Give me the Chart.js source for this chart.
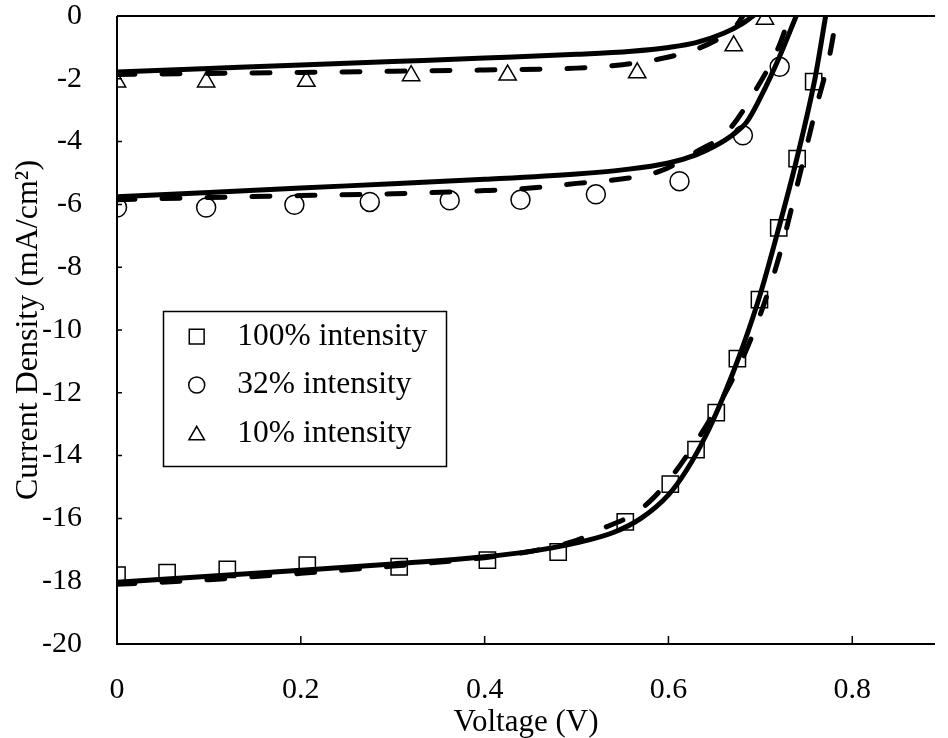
<!DOCTYPE html>
<html><head><meta charset="utf-8">
<script src="https://cdn.jsdelivr.net/npm/chart.js@4"></script>
<style>html,body{margin:0;padding:0;background:#fff}canvas{display:block}</style>
</head><body>
<canvas id="c" width="948" height="738"></canvas>
<script>
// ---- data ----
const seriesNames = ['100% intensity', '32% intensity', '10% intensity'];
// measured points (markers)
const v100 = [0, 0.0545, 0.12, 0.207, 0.307, 0.403, 0.480, 0.553, 0.602, 0.630, 0.652, 0.675, 0.699, 0.720, 0.740, 0.758];
const j100 = [-17.81, -17.73, -17.62, -17.49, -17.54, -17.33, -17.07, -16.11, -14.91, -13.81, -12.63, -10.91, -9.03, -6.75, -4.54, -2.09];
const v32 = [0, 0.097, 0.193, 0.275, 0.362, 0.439, 0.521, 0.612, 0.681, 0.721];
const j32 = [-6.10, -6.10, -6.01, -5.92, -5.87, -5.85, -5.68, -5.26, -3.80, -1.62];
const v10 = [0, 0.097, 0.206, 0.32, 0.425, 0.566, 0.671, 0.705];
const j10 = [-2.10, -2.10, -2.08, -1.90, -1.88, -1.81, -0.95, -0.10];
// solid fit curves
const vS100 = [0, 0.1, 0.2, 0.3, 0.4, 0.45, 0.5, 0.54, 0.57, 0.6, 0.62, 0.64, 0.66, 0.68, 0.70, 0.72, 0.74, 0.76, 0.771];
const jS100 = [-18.03, -17.84, -17.65, -17.45, -17.22, -17.05, -16.78, -16.45, -16.0, -15.25, -14.45, -13.4, -12.1, -10.6, -8.85, -6.75, -4.5, -1.9, 0];
const vS32 = [0, 0.1, 0.2, 0.3, 0.4, 0.5, 0.55, 0.6, 0.63, 0.65, 0.67, 0.685, 0.70, 0.72, 0.739];
const jS32 = [-5.76, -5.62, -5.48, -5.34, -5.2, -5.03, -4.9, -4.68, -4.42, -4.15, -3.78, -3.38, -2.6, -1.35, 0];
const vS10 = [0, 0.1, 0.2, 0.3, 0.4, 0.5, 0.56, 0.6, 0.63, 0.66, 0.68, 0.692];
const jS10 = [-1.78, -1.67, -1.56, -1.45, -1.34, -1.22, -1.12, -1.0, -0.85, -0.55, -0.25, 0];
// dashed fit curves
const vD100 = [0, 0.1, 0.2, 0.3, 0.4, 0.45, 0.5, 0.53, 0.56, 0.58, 0.6, 0.62, 0.64, 0.66, 0.68, 0.70, 0.72, 0.74, 0.76, 0.775, 0.783];
const jD100 = [-18.1, -17.95, -17.75, -17.52, -17.25, -17.05, -16.7, -16.3, -15.9, -15.45, -14.8, -14.0, -13.1, -12.1, -10.95, -9.5, -7.7, -5.4, -3.0, -1.3, 0];
const vD32 = [0, 0.1, 0.2, 0.3, 0.4, 0.45, 0.5, 0.54, 0.59, 0.63, 0.665, 0.695, 0.72, 0.732];
const jD32 = [-5.85, -5.78, -5.72, -5.66, -5.56, -5.48, -5.33, -5.22, -4.95, -4.33, -3.65, -2.35, -0.98, 0];
const vD10 = [0, 0.1, 0.2, 0.3, 0.4, 0.5, 0.55, 0.59, 0.63, 0.655, 0.672, 0.681];
const jD10 = [-1.86, -1.83, -1.80, -1.76, -1.72, -1.66, -1.55, -1.37, -1.06, -0.72, -0.37, 0];
// ticks
const xTickValues = [0, 0.2, 0.4, 0.6, 0.8];
const yTickValues = [-20, -18, -16, -14, -12, -10, -8, -6, -4, -2, 0];
const xTitle = 'Voltage (V)';
const yTitle = 'Current Density (mA/cm²)';

// ---- build ----
const FONT = "'Liberation Serif', 'Times New Roman', serif";
const pts = (xs, ys) => xs.map((x, i) => ({x, y: ys[i]}));
const markerStyles = [
  {pointStyle: 'rect', radius: 11.5, legendRadius: 10.5},
  {pointStyle: 'circle', radius: 9.5, legendRadius: 8},
  {pointStyle: 'triangle', radius: 10, legendRadius: 9}
];
const markerData = [pts(v100, j100), pts(v32, j32), pts(v10, j10)];
const solidData = [pts(vS100, jS100), pts(vS32, jS32), pts(vS10, jS10)];
const dashData = [pts(vD100, jD100), pts(vD32, jD32), pts(vD10, jD10)];

const datasets = [];
for (let i = 0; i < 3; i++) {
  datasets.push({label: seriesNames[i] + ' fit', data: solidData[i], showLine: true, borderColor: '#000', borderWidth: 5,
    pointRadius: 0, cubicInterpolationMode: 'monotone', borderCapStyle: 'round', borderJoinStyle: 'round', fill: false});
  datasets.push({label: seriesNames[i] + ' fit 2', data: dashData[i], showLine: true, borderColor: '#000', borderWidth: 5,
    borderDash: [18, 27], borderCapStyle: 'round', pointRadius: 0, cubicInterpolationMode: 'monotone', fill: false});
}
for (let i = 0; i < 3; i++) {
  datasets.push({label: seriesNames[i], data: markerData[i], showLine: false, pointStyle: markerStyles[i].pointStyle,
    pointRadius: markerStyles[i].radius, pointHoverRadius: markerStyles[i].radius, pointBorderWidth: 1.5,
    pointBorderColor: '#000', pointBackgroundColor: 'rgba(0,0,0,0)'});
}

const axesPlugin = {
  id: 'axesPlugin',
  beforeDatasetsDraw(chart) {
    const {ctx, chartArea: a, scales: {x, y}} = chart;
    ctx.save();
    ctx.strokeStyle = '#000';
    ctx.lineWidth = 2;
    ctx.beginPath();
    ctx.moveTo(a.left, a.top); ctx.lineTo(a.right, a.top);
    ctx.moveTo(a.left, a.top); ctx.lineTo(a.left, a.bottom);
    ctx.moveTo(a.left - 1, a.bottom); ctx.lineTo(a.right, a.bottom);
    ctx.stroke();
    ctx.lineWidth = 1.5;
    ctx.beginPath();
    xTickValues.forEach(v => { const px = x.getPixelForValue(v); if (v !== 0) { ctx.moveTo(px, a.bottom); ctx.lineTo(px, a.bottom - 8); } });
    yTickValues.forEach(v => { const py = y.getPixelForValue(v); if (v !== -20 && v !== 0) { ctx.moveTo(a.left, py); ctx.lineTo(a.left + 5, py); } });
    ctx.stroke();
    ctx.restore();
  }
};

const legendPlugin = {
  id: 'boxLegend',
  afterDatasetsDraw(chart) {
    const ctx = chart.ctx;
    ctx.save();
    ctx.fillStyle = '#fff';
    ctx.fillRect(163.5, 311.5, 283, 155);
    ctx.strokeStyle = '#000';
    ctx.lineWidth = 1.5;
    ctx.strokeRect(163.5, 311.5, 283, 155);
    const rows = [336.7, 385, 433.3];
    for (let i = 0; i < 3; i++) {
      ctx.fillStyle = '#fff';
      ctx.strokeStyle = '#000';
      ctx.lineWidth = 1.5;
      const yy = markerStyles[i].pointStyle === 'triangle' ? rows[i] + 2 : rows[i];
      Chart.helpers.drawPoint(ctx, {pointStyle: markerStyles[i].pointStyle, rotation: 0,
        radius: markerStyles[i].legendRadius, borderWidth: 1.5}, 196.7, yy);
      ctx.fillStyle = '#000';
      ctx.font = '31.5px ' + FONT;
      ctx.textBaseline = 'middle';
      ctx.textAlign = 'left';
      ctx.fillText(seriesNames[i], 237.3, rows[i]);
    }
    ctx.restore();
  }
};

new Chart(document.getElementById('c'), {
  type: 'scatter',
  data: {datasets},
  options: {
    responsive: false,
    animation: false,
    events: [],
    layout: {padding: {top: 16, right: 0, bottom: 0, left: 0}},
    plugins: {legend: {display: false}, tooltip: {enabled: false}},
    scales: {
      x: {
        type: 'linear', min: 0, max: 0.89,
        grid: {display: false}, border: {display: false},
        afterBuildTicks(s) { s.ticks = xTickValues.map(v => ({value: v})); },
        afterFit(s) { s.height = 94; s.paddingLeft = 0; s.paddingRight = 0; },
        ticks: {color: '#000', font: {family: FONT, size: 30}, padding: 20, maxRotation: 0,
          callback: v => v === 0 ? '0' : Number(v).toFixed(1)},
        title: {display: true, text: xTitle, color: '#000', font: {family: FONT, size: 31, lineHeight: 1}, padding: {top: 0, bottom: 0}}
      },
      y: {
        type: 'linear', min: -20, max: 0,
        grid: {display: false}, border: {display: false},
        afterBuildTicks(s) { s.ticks = yTickValues.map(v => ({value: v})); },
        afterFit(s) { s.width = 117; s.paddingTop = 0; s.paddingBottom = 0; },
        ticks: {color: '#000', font: {family: FONT, size: 30}, padding: 27,
          callback: v => String(Math.round(v))},
        title: {display: true, text: yTitle, color: '#000', font: {family: FONT, size: 32, lineHeight: 1.2}, padding: {top: 9, bottom: 0}}
      }
    }
  },
  plugins: [axesPlugin, legendPlugin]
});
</script>
</body></html>
